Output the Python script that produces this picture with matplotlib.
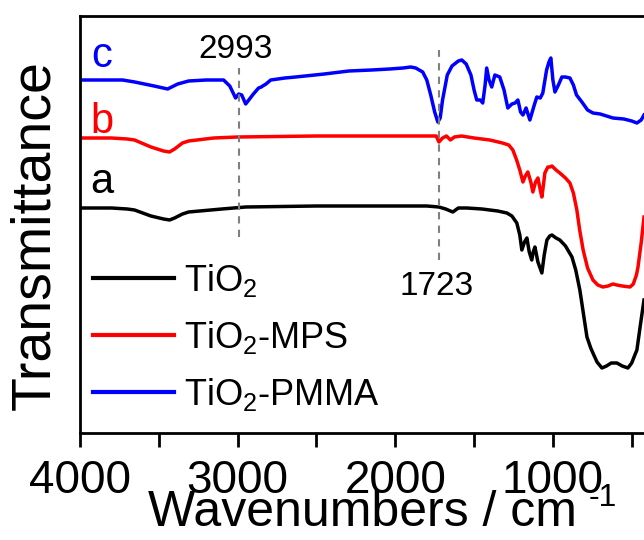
import matplotlib
matplotlib.use('Agg')
import matplotlib.pyplot as plt
import numpy as np

plt.rcParams['font.family'] = ['Liberation Sans', 'DejaVu Sans']
plt.rcParams['mathtext.fontset'] = 'custom'
plt.rcParams['mathtext.rm'] = 'Liberation Sans'
plt.rcParams['mathtext.it'] = 'Liberation Sans'

# values (transmittance in arbitrary offset units)
wn_c = [4000, 3800, 3730, 3653, 3530, 3444, 3380, 3311, 3200, 3089, 3050, 3013, 2993, 2974,
        2949, 2900, 2867, 2850, 2841, 2820, 2790, 2700, 2632, 2450, 2295, 2150, 2036, 1950,
        1902, 1870, 1826, 1800, 1775, 1750, 1730, 1715, 1700, 1670, 1640, 1600, 1578, 1550,
        1520, 1500, 1483, 1460, 1445, 1430, 1420, 1405, 1388, 1368, 1337, 1310, 1286, 1260,
        1240, 1222, 1205, 1190, 1170, 1146, 1120, 1102, 1080, 1064, 1040, 1025, 1013, 1000,
        987, 965, 943, 920, 892, 870, 850, 816, 780, 746, 700, 619, 550, 500, 467, 440, 422]
px_c = [80, 80, 80, 82, 86, 89, 84, 81, 80, 80, 86, 98, 94, 95,
        104, 94, 88, 87, 86, 84, 80, 78, 77, 74, 71, 70, 69, 68,
        67, 68, 72, 80, 95, 112, 122, 118, 100, 75, 66, 61, 60, 64,
        75, 90, 100, 100, 103, 85, 68, 80, 87, 75, 77, 90, 108, 104,
        103, 100, 112, 115, 108, 120, 106, 97, 98, 93, 70, 62, 58, 80,
        92, 85, 77, 77, 78, 85, 95, 102, 110, 113, 114, 118, 119, 121, 123, 120, 115]

wn_b = [4000, 3800, 3700, 3654, 3550, 3470, 3432, 3400, 3350, 3311, 3152, 3000, 2500, 2000,
        1800, 1740, 1723, 1700, 1675, 1650, 1625, 1580, 1500, 1400, 1320, 1280, 1254, 1230,
        1210, 1190, 1175, 1159, 1140, 1127, 1110, 1095, 1080, 1070, 1060, 1051, 1032, 1019,
        1006, 980, 956, 920, 892, 870, 848, 830, 808, 780, 746, 715, 683, 650, 620, 594,
        560, 511, 490, 470, 460, 440, 422]
px_b = [138, 138, 139, 140, 147, 151, 152, 149, 143, 141, 138, 137, 136, 136,
        136, 136, 142, 138, 136, 140, 137, 136, 138, 140, 143, 145, 150, 160,
        170, 182, 176, 172, 182, 192, 182, 178, 190, 197, 185, 173, 167, 167,
        166, 170, 173, 178, 183, 193, 210, 230, 250, 268, 280, 285, 287, 286, 284, 285,
        286, 287, 284, 275, 267, 243, 217]

wn_a = [4000, 3800, 3700, 3654, 3550, 3470, 3432, 3400, 3350, 3311, 3100, 2949, 2500, 2000,
        1800, 1723, 1680, 1635, 1600, 1546, 1450, 1350, 1292, 1260, 1229, 1210, 1197, 1180,
        1165, 1150, 1134, 1125, 1114, 1095, 1070, 1055, 1038, 1020, 1006, 980, 956, 920,
        879, 855, 829, 805, 784, 760, 746, 720, 689, 660, 630, 594, 560, 524, 500, 480,
        467, 445, 422]
px_a = [208, 208, 209, 210, 216, 219, 220, 218, 214, 212, 209, 207, 206, 206,
        206, 207, 209, 212, 208, 208, 209, 211, 213, 216, 223, 235, 250, 242,
        238, 252, 260, 252, 247, 262, 273, 255, 240, 236, 235, 238, 240, 246,
        257, 270, 290, 315, 337, 348, 353, 362, 368, 366, 363, 363, 366, 368, 363, 355,
        350, 325, 300]

base = 433
trans_a = base - np.array(px_a)
trans_b = base - np.array(px_b)
trans_c = base - np.array(px_c)

names = ['TiO$_2$', 'TiO$_2$-MPS', 'TiO$_2$-PMMA']
peaks = [2993, 1723]

fig = plt.figure(figsize=(6.44, 5.4), dpi=100)
ax = fig.add_axes([80 / 644, 1 - 433 / 540, 1 - 80 / 644, (433 - 16) / 540])

ax.plot(wn_a, trans_a, color='black', lw=2.5, label=names[0])
ax.plot(wn_b, trans_b, color='red', lw=2.5, label=names[1])
ax.plot(wn_c, trans_c, color='blue', lw=2.5, label=names[2])

ax.vlines(peaks[0], base - 237, base - 68, colors='gray', linestyles=(0, (3.5, 3)), lw=1.5)
ax.vlines(peaks[1], base - 260, base - 50, colors='gray', linestyles=(0, (3.5, 3)), lw=1.5)

ax.set_xlim(4000, 422)
ax.set_ylim(0, 417)
ax.set_xticks([4000, 3000, 2000, 1000])
ax.set_xticks([3500, 2500, 1500, 500], minor=True)
ax.set_yticks([])
ax.tick_params(axis='x', which='both', direction='out', length=10, width=2,
               labelsize=33, pad=9)
for s in ['left', 'bottom', 'top']:
    ax.spines[s].set_linewidth(2)
ax.spines['right'].set_visible(False)

ax.set_xlabel('Wavenumbers / cm', fontsize=36)
ax.xaxis.set_label_coords(0.501, -0.137)
fig.text(603 / 644, 1 - 506 / 540, '-1', fontsize=23, ha='center', va='baseline')
ax.set_ylabel('Transmittance', fontsize=40)
ax.yaxis.set_label_coords(-0.034, 0.475)

ax.text(3860, base - 67, 'c', color='blue', fontsize=30, ha='center', va='baseline')
ax.text(3860, base - 133, 'b', color='red', fontsize=30, ha='center', va='baseline')
ax.text(3860, base - 193, 'a', color='black', fontsize=30, ha='center', va='baseline')
ax.text(3010, base - 58, '2993', fontsize=24, ha='center', va='baseline')
ax.text(1735, base - 295, '1723', fontsize=24, ha='center', va='baseline')

leg = ax.legend(loc='upper left', bbox_to_anchor=(93 / 644, 1 - 262 / 540),
                bbox_transform=fig.transFigure, frameon=False, fontsize=26,
                handlelength=2.25, handletextpad=0.28, labelspacing=0.55,
                borderpad=0, borderaxespad=0)
for h in leg.get_lines():
    h.set_linewidth(3)

fig.savefig('out.png', dpi=100)
